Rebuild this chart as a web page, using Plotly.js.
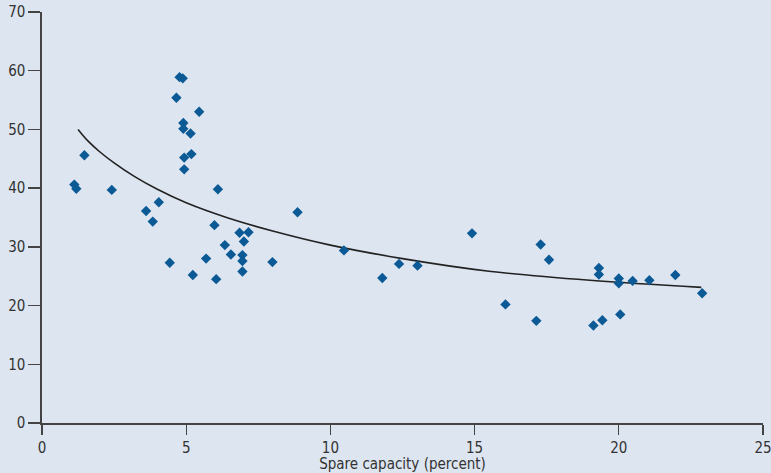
<!DOCTYPE html>
<html>
<head>
<meta charset="utf-8">
<script src="https://cdn.plot.ly/plotly-3.0.1.min.js"></script>
<style>
html,body{margin:0;padding:0;background:#dde5f0;}
#chart{width:771px;height:473px;}
</style>
</head>
<body>
<div id="chart"></div>
<script>
// Scatter observations: spare capacity (percent) vs value
const spareCapacity = [1.12, 1.19, 1.47, 2.42, 3.61, 3.84, 4.05, 4.43, 4.66, 4.77, 4.88, 4.90, 4.90, 4.93, 4.93, 5.15, 5.18, 5.23, 5.45, 5.69, 5.98, 6.04, 6.10, 6.34, 6.55, 6.85, 6.95, 6.95, 6.95, 7.00, 7.16,
  7.99, 8.86, 10.47, 11.80, 12.38, 13.02, 14.91, 16.07, 17.14, 17.29, 17.58, 19.12, 19.31, 19.31, 19.43, 20.00, 20.00, 20.05, 20.48, 21.06, 21.96, 22.89];
const values = [40.6, 39.9, 45.6, 39.7, 36.1, 34.3, 37.6, 27.3, 55.4, 58.9, 58.7, 51.1, 50.1, 45.2, 43.2, 49.3, 45.8, 25.2, 53.0, 28.0, 33.7, 24.5, 39.8, 30.3, 28.7, 32.4, 28.6, 27.6, 25.8, 30.9, 32.5,
  27.4, 35.9, 29.4, 24.7, 27.1, 26.8, 32.3, 20.2, 17.4, 30.4, 27.8, 16.6, 26.4, 25.3, 17.5, 24.6, 23.8, 18.5, 24.2, 24.3, 25.2, 22.1];

// Fitted curve
const curveX = [1.25, 1.6, 2.0, 2.5, 3.2, 4.0, 5.0, 6.4, 8.0, 10.0, 12.5, 15.5, 19.0, 22.86];
const curveY = [50.0, 48.0, 46.2, 44.3, 42.0, 39.8, 37.5, 35.0, 32.7, 30.3, 28.0, 25.85, 24.3, 23.1];

const xTicks = [0, 5, 10, 15, 20, 25];
const yTicks = [0, 10, 20, 30, 40, 50, 60, 70];

const font = '"Liberation Sans Narrow", "DejaVu Sans Condensed", "Roboto Condensed", Arial, sans-serif';

const traces = [
  {
    x: curveX, y: curveY, type: 'scatter', mode: 'lines',
    line: {color: '#222222', width: 1.6, shape: 'spline', smoothing: 1.0},
    hoverinfo: 'skip', showlegend: false
  },
  {
    x: spareCapacity, y: values, type: 'scatter', mode: 'markers',
    marker: {symbol: 'diamond', size: 8, color: '#0b5a96', line: {width: 0}},
    showlegend: false
  }
];

const layout = {
  width: 771, height: 473,
  margin: {l: 42, r: 8, t: 12, b: 50, pad: 0},
  paper_bgcolor: '#dde5f0',
  plot_bgcolor: '#dde5f0',
  font: {family: font, size: 15, color: '#333333'},
  showlegend: false,
  xaxis: {
    range: [0, 25], tickvals: xTicks, ticktext: xTicks.map(String),
    showgrid: false, zeroline: false, showline: true, linecolor: '#444444', linewidth: 1.6,
    ticks: 'outside', ticklen: 10, tickwidth: 1.3, tickcolor: '#444444',
    ticklabeloverflow: 'allow',
    tickfont: {family: font, size: 15, color: '#333333'},
    title: {text: 'Spare capacity (percent)', font: {family: font, size: 15, color: '#333333'}, standoff: 2},
    fixedrange: true
  },
  yaxis: {
    range: [0, 70], tickvals: yTicks, ticktext: yTicks.map(String),
    showgrid: false, zeroline: false, showline: true, linecolor: '#444444', linewidth: 1.6,
    ticks: 'outside', ticklen: 12, tickwidth: 1.3, tickcolor: '#444444',
    ticklabeloverflow: 'allow',
    tickfont: {family: font, size: 15, color: '#333333'},
    fixedrange: true
  }
};

Plotly.newPlot('chart', traces, layout, {displayModeBar: false, staticPlot: true});
</script>
</body>
</html>
